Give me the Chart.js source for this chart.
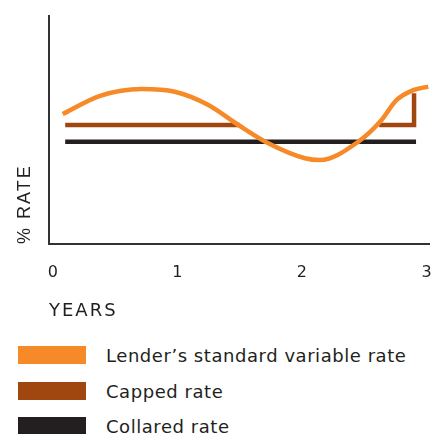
<!DOCTYPE html>
<html>
<head>
<meta charset="utf-8">
<script src="https://cdn.jsdelivr.net/npm/chart.js@4/dist/chart.umd.min.js"></script>
<style>
  html, body { margin: 0; padding: 0; background: #ffffff; }
  #wrap { position: relative; width: 436px; height: 434px; overflow: hidden; }
  #box { position: absolute; left: 0; top: 0; width: 436px; height: 330px; }
  #legend { position: absolute; left: 0; top: 0; }
  .item { position: absolute; left: 18px; display: flex; align-items: center; height: 18px; }
  .sw { width: 68px; height: 18px; margin-right: 20px; flex: none; }
  .lbl { font-family: "DejaVu Sans", sans-serif; font-size: 18px; letter-spacing: 0.55px; color: #231f20; white-space: nowrap; }
</style>
</head>
<body>
<div id="wrap">
  <div id="box"><canvas id="c"></canvas></div>
  <div id="legend"></div>
</div>
<script>
// ---- data ----
const seriesNames = ["Lender\u2019s standard variable rate", "Capped rate", "Collared rate"];
const seriesColors = ["#f68a28", "#a0470f", "#231f20"];
const xTickValues = [0, 1, 2, 3];
const xTickLabels = ["0", "1", "2", "3"];

// Lender's standard variable rate (years, rate index)
const svrYears = [0.08, 0.38, 0.714, 0.98, 1.249, 1.49, 1.73, 2.025, 2.145, 2.453, 2.627, 2.761, 2.894, 3.014];
const svrRates = [5.70, 6.50, 6.80, 6.68, 6.10, 5.22, 4.42, 3.76, 3.68, 4.49, 5.36, 6.32, 6.75, 6.90];

// Capped rate (null = follows the variable rate, hidden)
const capYears = [0.10, 1.50, 2.0, 2.62, 2.90, 2.90];
const capRates = [5.22, 5.22, null, 5.22, 5.22, 6.61];

// Collared rate
const colYears = [0.10, 2.916];
const colRates = [4.49, 4.49];

const toPts = (xs, ys) => xs.map((x, i) => ({ x: x, y: ys[i] }));

const spacingPlugin = {
  id: 'spacing',
  beforeDraw(chart) { try { chart.ctx.letterSpacing = '2px'; } catch (e) {} }
};

const ctx = document.getElementById('c');
new Chart(ctx, {
  type: 'line',
  data: {
    datasets: [
      { label: seriesNames[0], data: toPts(svrYears, svrRates), borderColor: seriesColors[0], backgroundColor: seriesColors[0],
        borderWidth: 4.5, pointRadius: 0, cubicInterpolationMode: 'monotone', fill: false },
      { label: seriesNames[1], data: toPts(capYears, capRates), borderColor: seriesColors[1], backgroundColor: seriesColors[1],
        borderWidth: 4.5, pointRadius: 0, tension: 0, spanGaps: false, borderJoinStyle: 'miter', fill: false },
      { label: seriesNames[2], data: toPts(colYears, colRates), borderColor: seriesColors[2], backgroundColor: seriesColors[2],
        borderWidth: 4.5, pointRadius: 0, tension: 0, fill: false }
    ]
  },
  plugins: [spacingPlugin],
  options: {
    responsive: true,
    maintainAspectRatio: false,
    animation: false,
    layout: { padding: { left: 1, right: 7, top: 16, bottom: 7.7 } },
    plugins: { legend: { display: false }, tooltip: { enabled: false } },
    scales: {
      x: {
        type: 'linear', min: -0.03, max: 3.02,
        afterBuildTicks: (s) => { s.ticks = xTickValues.map(v => ({ value: v })); },
        afterFit: (s) => { s.height = 78.3; s.paddingLeft = 0; s.paddingRight = 0; },
        grid: { display: false, drawTicks: false },
        border: { display: true, color: '#333333', width: 2 },
        ticks: { padding: 19, labelOffset: 1, color: '#231f20', font: { family: 'DejaVu Sans', size: 16 },
                 maxRotation: 0, autoSkip: false,
                 callback: (v) => xTickLabels[xTickValues.indexOf(v)] },
        title: { display: true, text: 'YEARS', align: 'start', color: '#231f20',
                 font: { family: 'DejaVu Sans', size: 18 }, padding: { top: 19.5, bottom: 0 } }
      },
      y: {
        min: 0, max: 10,
        afterFit: (s) => { s.width = 48; s.paddingTop = 0; s.paddingBottom = 0; },
        grid: { display: false, drawTicks: false },
        border: { display: true, color: '#333333', width: 2 },
        ticks: { display: false },
        title: { display: true, text: '% RATE', align: 'start', color: '#231f20',
                 font: { family: 'Liberation Sans', size: 18 }, padding: { top: 13.2, bottom: 13.2 } }
      }
    }
  }
});

// legend
const legend = document.getElementById('legend');
const legendTops = [346, 382, 417];
seriesNames.forEach((n, i) => {
  const it = document.createElement('div');
  it.className = 'item';
  it.style.top = legendTops[i] + 'px';
  const sw = document.createElement('div');
  sw.className = 'sw';
  sw.style.background = seriesColors[i];
  const lb = document.createElement('span');
  lb.className = 'lbl';
  lb.textContent = n;
  it.appendChild(sw); it.appendChild(lb);
  legend.appendChild(it);
});
</script>
</body>
</html>
